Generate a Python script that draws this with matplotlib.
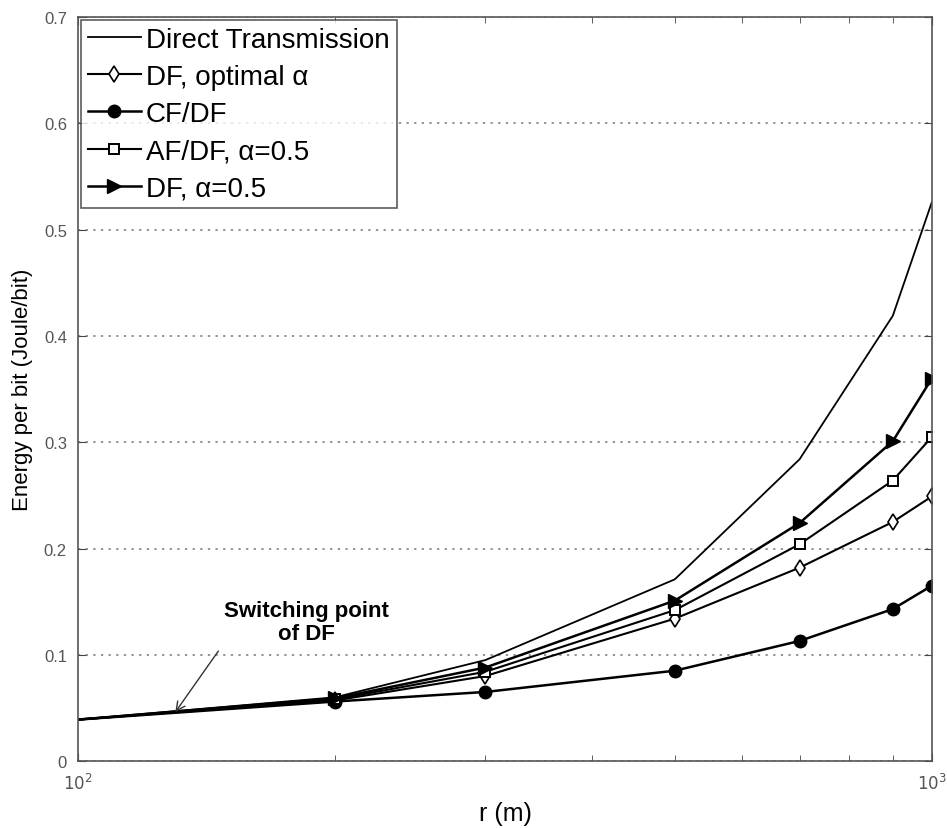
import matplotlib.pyplot as plt
from matplotlib.ticker import FixedLocator, NullFormatter

plt.rcParams['font.family'] = ['Liberation Sans', 'DejaVu Sans']

# distances (m)
r = [100, 200, 300, 500, 700, 900, 1000]

# energy per bit (Joule/bit)
direct = [0.039, 0.060, 0.095, 0.171, 0.284, 0.419, 0.526]
df_opt = [0.039, 0.057, 0.080, 0.134, 0.182, 0.225, 0.249]
cf_df = [0.039, 0.056, 0.065, 0.085, 0.113, 0.143, 0.165]
af_df = [0.039, 0.058, 0.084, 0.142, 0.204, 0.264, 0.305]
df_half = [0.039, 0.059, 0.088, 0.151, 0.224, 0.301, 0.360]

y_ticks = [0, 0.1, 0.2, 0.3, 0.4, 0.5, 0.6, 0.7]
y_tick_labels = ["0", "0.1", "0.2", "0.3", "0.4", "0.5", "0.6", "0.7"]

fig = plt.figure(figsize=(9.47, 8.29), dpi=100)
ax = fig.add_axes([0.0824, 0.0808, 0.9016, 0.8972])

marks = list(range(1, len(r)))
ax.plot(r, direct, color='black', lw=1.3, label='Direct Transmission')
ax.plot(r, df_opt, color='black', lw=1.5, marker='d', ms=8.5, mfc='white',
        mec='black', mew=1.2, markevery=marks, label='DF, optimal α')
ax.plot(r, cf_df, color='black', lw=1.8, marker='o', ms=9, mfc='black',
        markevery=marks, label='CF/DF')
ax.plot(r, af_df, color='black', lw=1.5, marker='s', ms=7.5, mfc='white',
        mec='black', mew=1.4, markevery=marks, label='AF/DF, α=0.5')
ax.plot(r, df_half, color='black', lw=1.8, marker='>', ms=10, mfc='black',
        markevery=marks, label='DF, α=0.5')

ax.set_xscale('log')
ax.set_xlim(100, 1000)
ax.set_ylim(0, 0.7)
ax.set_yticks(y_ticks)
ax.set_yticklabels(y_tick_labels)
ax.xaxis.set_major_locator(FixedLocator([100, 1000]))
ax.set_xticklabels([r'$10^2$', r'$10^3$'])
ax.xaxis.set_minor_locator(FixedLocator([200, 300, 400, 500, 600, 700, 800, 900]))
ax.xaxis.set_minor_formatter(NullFormatter())

ax.tick_params(axis='both', which='both', direction='in', top=True, right=True,
               colors='#444444', labelcolor='#555555', labelsize=12)
ax.tick_params(which='major', length=6)
ax.tick_params(which='minor', length=4)
ax.tick_params(axis='x', pad=8)
ax.tick_params(axis='y', pad=8)
for s in ax.spines.values():
    s.set_color('#555555')
    s.set_linewidth(1.2)

ax.yaxis.grid(True, linestyle=(0, (1.5, 3.5)), color='#777777', lw=1.1)

ax.set_xlabel('r (m)', fontsize=18, labelpad=6)
ax.set_ylabel('Energy per bit (Joule/bit)', fontsize=16, labelpad=8)

# annotation text and arrow
ax.text(185, 0.131, 'Switching point\nof DF', ha='center', va='center',
        fontsize=16, fontweight='bold', linespacing=1.1)
ax.annotate('', xy=(130, 0.046), xytext=(146, 0.1035),
            arrowprops=dict(arrowstyle='->', color='#333333', lw=1,
                            shrinkA=0, shrinkB=0, mutation_scale=16))

leg = ax.legend(loc='upper left', fontsize=20, frameon=True, fancybox=False,
                edgecolor='#333333', borderaxespad=0.1, handlelength=1.9,
                handletextpad=0.2, labelspacing=0.4, borderpad=0.25)
leg.get_frame().set_linewidth(1.2)

fig.savefig('out.png', dpi=100)
